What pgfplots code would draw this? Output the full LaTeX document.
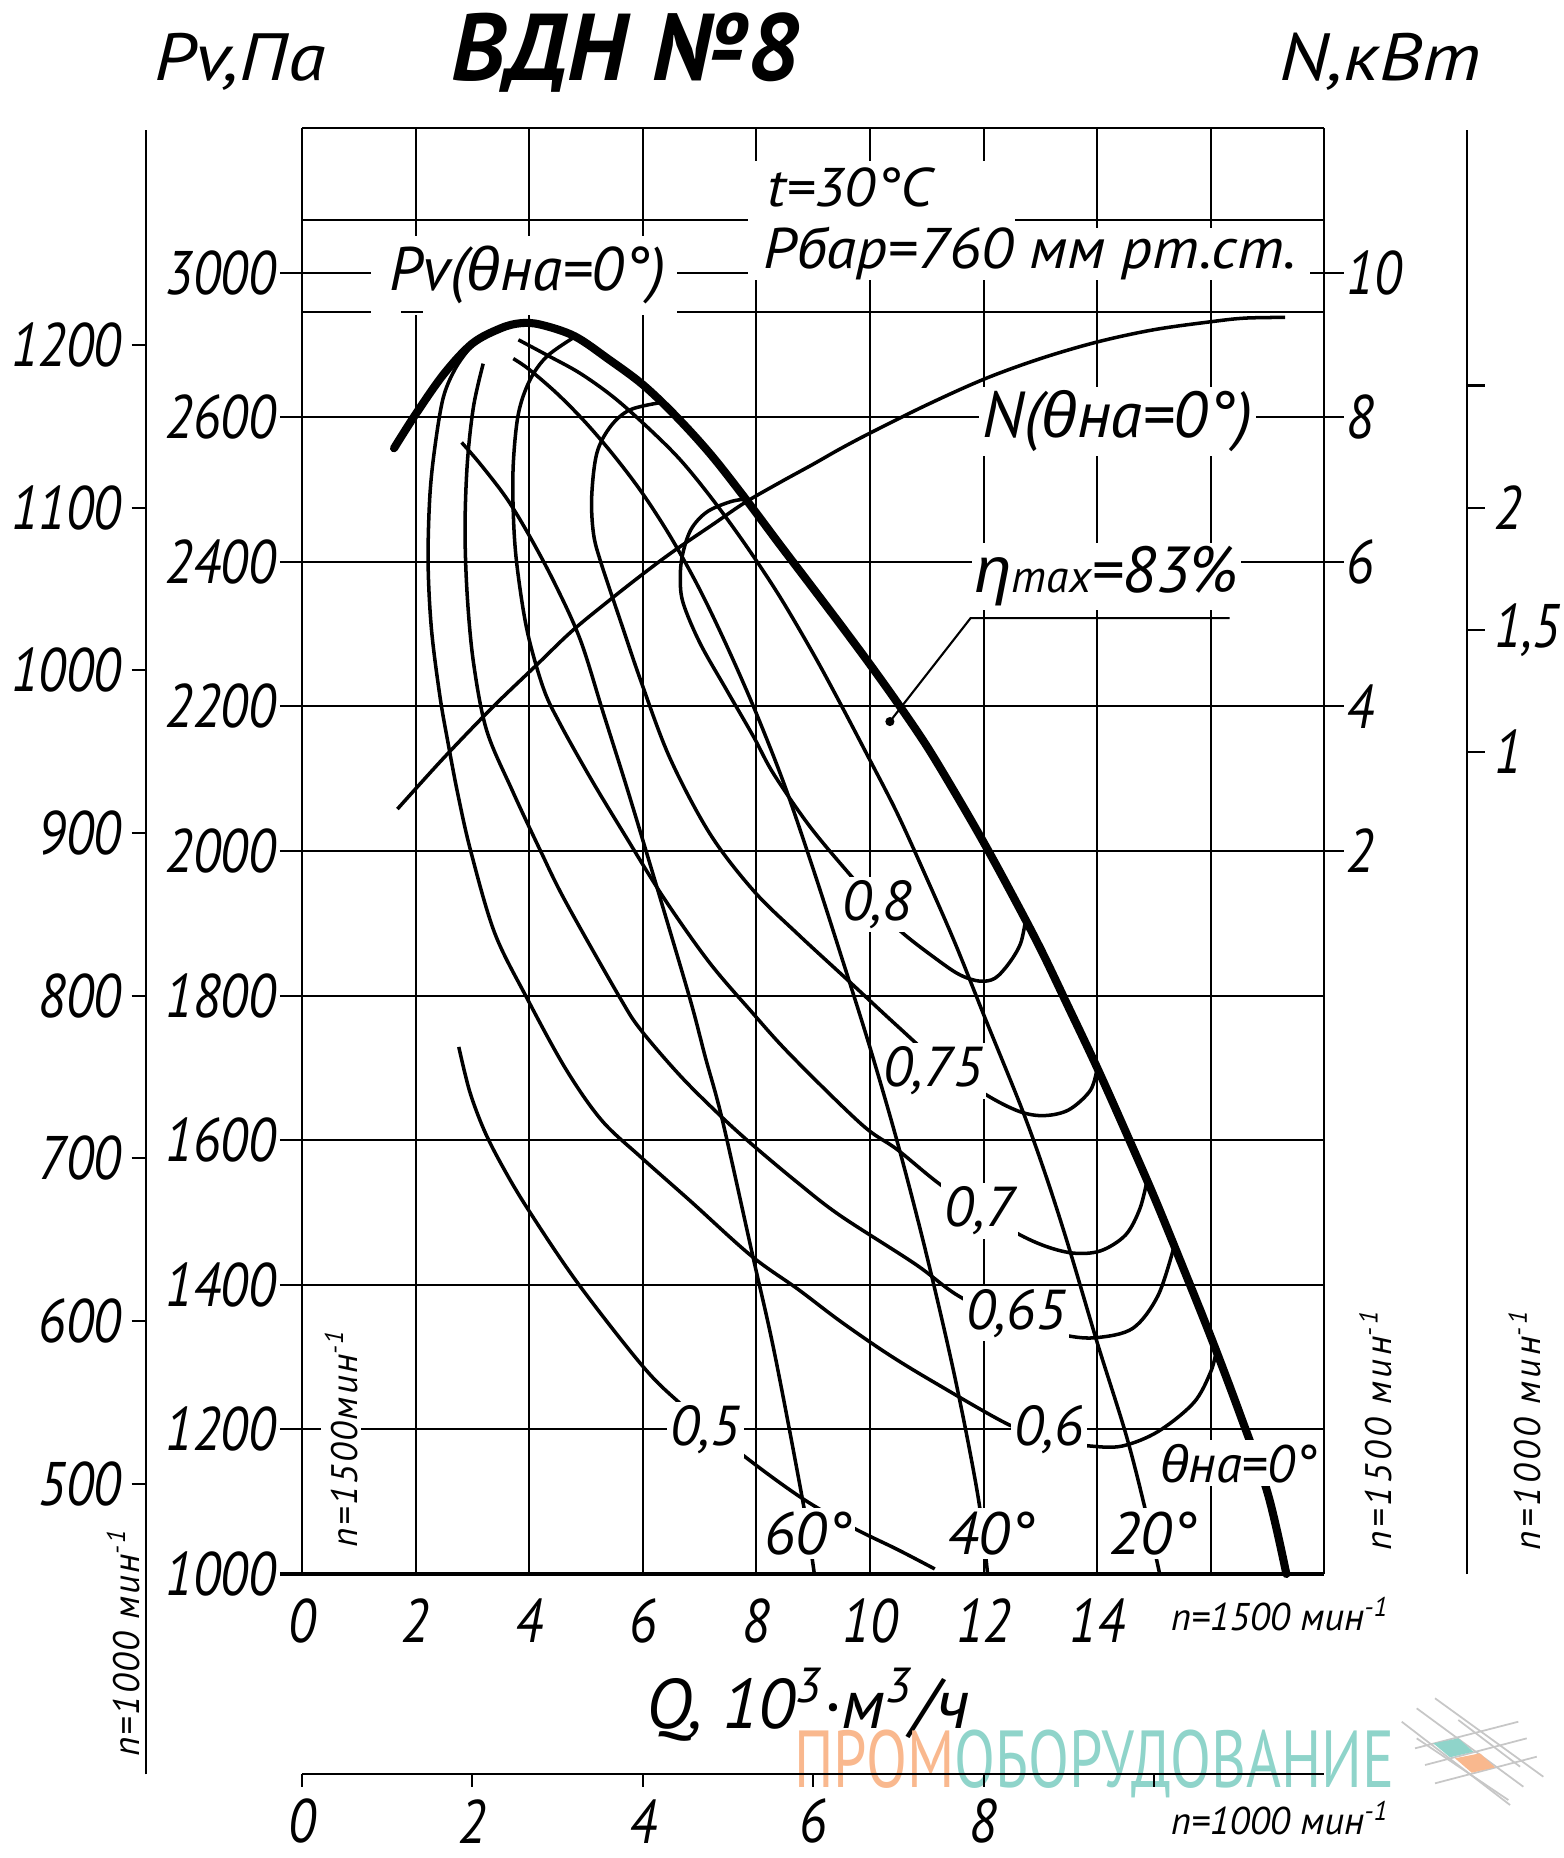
\documentclass[border=0pt]{standalone}
\usepackage{pgfplots}
\pgfplotsset{compat=1.18}
\usepackage{graphicx}
\usepackage{fontspec}
\setmainfont{PT Sans}
\newfontfamily\gr{Liberation Sans}
\newcommand\fs[1]{\fontsize{#1}{#1}\selectfont\itshape}
\newcommand\nd[1]{\scalebox{0.86}[1]{#1}}
\newcommand\ls[1]{\addfontfeature{LetterSpace=#1}}
\definecolor{wmo}{HTML}{F9B88E}
\definecolor{wmt}{HTML}{8FD4CA}
\tikzset{gl/.style={line width=0.6pt, black},
  cv/.style={line width=1pt, black, smooth, tension=0.55}}
\begin{document}
\begin{tikzpicture}
\begin{axis}[
  scale only axis, width=10.224cm, height=14.46cm,
  xmin=0, xmax=18, ymin=1000, ymax=3000,
  axis lines=none, clip=false,
]
% ---------------- grid -----------------
\pgfplotsinvokeforeach{0,2,4,6,8,10,12,14,16,18}{\draw[gl] (axis cs:#1,1000) -- (axis cs:#1,3000);}
\pgfplotsinvokeforeach{1200,1400,1600,1800}{\draw[gl] (axis cs:-0.39,#1) -- (axis cs:18,#1);}
\pgfplotsinvokeforeach{2000,2200,2400,2600,2800}{\draw[gl] (axis cs:-0.39,#1) -- (axis cs:18.35,#1);}
\draw[line width=0.9pt] (axis cs:-0.39,1000) -- (axis cs:18,1000);
\draw[gl] (axis cs:0,3000) -- (axis cs:18,3000);
\draw[gl] (axis cs:0,2873) -- (axis cs:18,2873);
\draw[gl] (axis cs:0,2745) -- (axis cs:18,2745);
% white masks behind the header texts
\fill[white] (axis cs:1.22,2741) rectangle (axis cs:6.6,2850);
\fill[white] (axis cs:7.85,2790) rectangle (axis cs:17.75,2862);
\fill[white] (axis cs:7.85,2862) rectangle (axis cs:12.55,2955);
\draw[gl] (axis cs:1.74,2745) -- (axis cs:2.13,2745);

% ---------------- efficiency loops -----------------
\addplot[cv] coordinates {(7.83,2487) (7.54,2483) (7.13,2469) (6.85,2445) (6.70,2410) (6.66,2378) (6.71,2343) (7.01,2287) (7.48,2222) (7.95,2158) (8.30,2107) (8.94,2034) (9.65,1967) (10.1,1928) (10.54,1889) (11.23,1847) (11.6,1828) (11.93,1820) (12.2,1824) (12.45,1845) (12.65,1872) (12.74,1905)};
\addplot[cv] coordinates {(6.3,2620) (5.77,2610) (5.43,2587) (5.19,2550) (5.10,2490) (5.13,2440) (5.25,2402) (5.62,2315) (5.98,2232) (6.48,2128) (7.18,2024) (7.95,1945) (8.73,1885) (9.6,1822) (10.48,1758) (11.17,1710) (12.02,1664) (12.62,1640) (13.06,1634) (13.50,1642) (13.88,1669) (14.0,1700)};
\addplot[cv] coordinates {(4.78,2710) (4.31,2684) (4.01,2651) (3.81,2605) (3.72,2536) (3.72,2467) (3.78,2398) (3.96,2306) (4.25,2225) (4.55,2175) (5.1,2098) (5.7,2020) (6.37,1935) (7.16,1847) (7.91,1778) (8.6,1718) (9.85,1622) (10.48,1587) (11.30,1535) (12.37,1481) (13.0,1456) (13.56,1444) (14.06,1447) (14.5,1469) (14.75,1505) (14.88,1545)};
\addplot[cv] coordinates {(3.19,2674) (3.02,2615) (2.91,2536) (2.87,2444) (2.91,2352) (3.02,2260) (3.25,2167) (3.7,2084) (4.2,2000) (4.64,1930) (5.59,1798) (5.96,1753) (6.66,1689) (7.35,1635) (7.91,1595) (8.73,1541) (9.47,1496) (10.79,1429) (11.55,1385) (12.5,1348) (13.44,1330) (14.0,1327) (14.63,1340) (15.07,1385) (15.35,1452)};
\addplot[cv] coordinates {(3.02,2702) (2.72,2670) (2.49,2628) (2.34,2559) (2.25,2490) (2.22,2398) (2.28,2306) (2.43,2213) (2.57,2150) (2.74,2080) (2.97,2000) (3.39,1887) (3.95,1798) (4.64,1699) (5.27,1628) (5.96,1577) (6.85,1515) (7.91,1440) (8.73,1394) (9.47,1350) (10.3,1305) (11.11,1266) (12.43,1207) (13.2,1185) (13.88,1177) (14.44,1177) (15.07,1197) (15.70,1237) (16.0,1280) (16.1,1310)};
\addplot[cv] coordinates {(2.76,1729) (2.95,1668) (3.2,1615) (3.5,1568) (3.95,1508) (4.83,1405) (5.96,1291) (6.6,1240) (7.72,1167) (8.8,1105) (9.7,1064) (10.48,1034) (11.14,1007)};

% efficiency labels
\node[fill=white, inner sep=1pt] at (axis cs:10.13,1926) {\fs{16}0,8};
\node[fill=white, inner sep=1pt] at (axis cs:11.11,1696) {\fs{16}0,75};
\node[fill=white, inner sep=1pt] at (axis cs:11.93,1502) {\fs{16}0,7};
\node[fill=white, inner sep=1pt] at (axis cs:12.57,1360) {\fs{16}0,65};
\node[fill=white, inner sep=1pt] at (axis cs:13.15,1199) {\fs{16}0,6};
\node[fill=white, inner sep=1pt] at (axis cs:7.10,1199) {\fs{16}0,5};

% ---------------- pressure curves (guide vane angles) -----------------
\addplot[cv] coordinates {(3.81,2707) (4.31,2686) (4.89,2661) (5.48,2628) (6.07,2587) (6.66,2541) (7.24,2485) (7.83,2421) (8.41,2352) (9.0,2273) (9.47,2205) (9.97,2130) (10.48,2052) (11.0,1962) (11.5,1872) (12.02,1770) (12.68,1642) (13.1,1550) (13.5,1452) (14.0,1320) (14.51,1192) (14.85,1088) (15.1,1000)};
\addplot[cv] coordinates {(3.72,2681) (4.0,2666) (4.5,2632) (5.0,2592) (5.5,2546) (6.0,2494) (6.5,2433) (7.0,2362) (7.5,2280) (8.0,2190) (8.5,2090) (9.0,1975) (9.5,1853) (10.0,1728) (10.5,1592) (11.0,1440) (11.5,1270) (11.9,1108) (12.07,1000)};
\addplot[cv] coordinates {(2.81,2565) (3.13,2536) (3.6,2488) (4.01,2435) (4.45,2370) (4.9,2292) (5.3,2192) (5.69,2095) (6.0,2015) (6.4,1910) (6.85,1790) (7.1,1715) (7.4,1628) (7.93,1442) (8.32,1305) (8.83,1095) (9.02,1000)};
% theta = 0 (thick)
\addplot[line width=2.3pt, black, smooth, tension=0.55, line cap=round] coordinates {(1.62,2557) (2.0,2604) (2.5,2660) (3.0,2702) (3.5,2723) (3.85,2730) (4.2,2728) (4.8,2712) (5.4,2680) (6.0,2645) (6.6,2600) (7.2,2548) (7.8,2488) (8.4,2425) (9.0,2363) (9.5,2311) (10.0,2258) (10.5,2203) (11.0,2145) (11.5,2080) (12.0,2012) (12.5,1940) (13.0,1865) (13.5,1783) (14.0,1700) (14.5,1612) (15.0,1522) (15.5,1426) (16.0,1328) (16.5,1224) (17.0,1112) (17.33,1000)};
% power N (kW), plotted on the N scale: Pv = 1800 + 100 N
\addplot[cv] table[x index=0, y expr=1800+100*\thisrowno{1}] {
1.68 2.58
2.0 2.86
2.57 3.35
3.37 4.0
4.14 4.58
4.75 5.04
5.4 5.46
6.0 5.83
6.53 6.14
7.24 6.52
7.8 6.82
8.42 7.1
9.0 7.35
9.47 7.56
10.0 7.78
11.0 8.17
12.02 8.53
13.0 8.81
14.0 9.04
15.0 9.21
16.0 9.32
16.6 9.37
17.31 9.38
};

% angle labels
\node[fill=white, inner sep=1pt] at (axis cs:8.91,1056) {\fs{17}60°};
\node[fill=white, inner sep=1pt] at (axis cs:12.13,1056) {\fs{17}40°};
\node[fill=white, inner sep=1pt] at (axis cs:14.98,1056) {\fs{17}20°};
\node[fill=white, inner sep=1pt] at (axis cs:16.49,1153) {\fs{15}{\gr θ}на=0°};

% eta max
\node[fill=white, inner sep=1pt] at (axis cs:14.17,2380) {\fs{18.5}{\gr η}{\fontsize{13}{13}\selectfont max}=83\%};
\draw[line width=0.6pt] (axis cs:10.35,2179) -- (axis cs:11.77,2322) -- (axis cs:16.33,2322);
\fill (axis cs:10.35,2179) circle[radius=1.3pt];
% curve names
\node[fill=white, inner sep=1pt] at (axis cs:14.36,2594) {\fs{18.5}N({\gr θ}на=0°)};
\node[inner sep=0pt] at (axis cs:3.98,2797) {\fs{17.5}Pv({\gr θ}на=0°)};
\node[inner sep=0pt] at (axis cs:9.65,2918) {\scalebox{1.08}[1]{\fs{15.5}t=30°C}};
\node[inner sep=0pt] at (axis cs:12.82,2826) {\scalebox{1.07}[1]{\fs{16.3}Pбар=760 мм рт.ст.}};

% ---------------- left Pv scale (n=1500) -----------------
\pgfplotsinvokeforeach{1000,1200,1400,1600,1800,2000,2200,2400,2600}{\node[anchor=east, inner sep=0pt] at (axis cs:-0.45,#1) {\fs{17.5}\nd{#1}};}
\node[anchor=east, inner sep=0pt] at (axis cs:-0.45,2800) {\fs{17.5}\nd{3000}};
% right N scale (n=1500)
\node[anchor=west, inner sep=0pt] at (axis cs:18.38,2000) {\fs{17.5}\nd{2}};
\node[anchor=west, inner sep=0pt] at (axis cs:18.38,2200) {\fs{17.5}\nd{4}};
\node[anchor=west, inner sep=0pt] at (axis cs:18.38,2400) {\fs{17.5}\nd{6}};
\node[anchor=west, inner sep=0pt] at (axis cs:18.38,2600) {\fs{17.5}\nd{8}};
\node[anchor=west, inner sep=0pt] at (axis cs:18.38,2800) {\fs{17.5}\nd{10}};

% far-left Pv scale (n=1000): Pv1500 = 2.25 Pv1000
\draw[gl] (axis cs:-2.75,723) -- (axis cs:-2.75,2997);
\pgfplotsinvokeforeach{500,600,700,800,900,1000,1100,1200}{
  \draw[gl] (axis cs:-3.0,{2.25*#1}) -- (axis cs:-2.75,{2.25*#1});
  \node[anchor=east, inner sep=0pt] at (axis cs:-3.17,{2.25*#1}) {\fs{17.5}\nd{#1}};}
% far-right N scale (n=1000): N1500 = 3.375 N1000
\draw[gl] (axis cs:20.51,1000) -- (axis cs:20.51,2997);
\pgfplotsinvokeforeach{1,1.5,2,2.5}{\draw[gl] (axis cs:20.51,{1800+337.5*#1}) -- (axis cs:20.83,{1800+337.5*#1});}
\node[anchor=west, inner sep=0pt] at (axis cs:20.99,2137.5) {\fs{17.5}\nd{1}};
\node[anchor=west, inner sep=0pt] at (axis cs:20.99,2306) {\fs{17.5}\nd{1,5}};
\node[anchor=west, inner sep=0pt] at (axis cs:20.99,2475) {\fs{17.5}\nd{2}};

% ---------------- bottom Q scale (n=1500) -----------------
\pgfplotsinvokeforeach{0,2,4,6,8,10,12,14}{\node[inner sep=0pt] at (axis cs:#1,935) {\fs{17.5}\nd{#1}};}
\node[inner sep=0pt] at (axis cs:17.22,945) {\fs{11}n=1500 мин\textsuperscript{-1}};
\node[inner sep=0pt] at (axis cs:8.9,819) {\fs{20}Q, 10\textsuperscript{3}·м\textsuperscript{3}/ч};

% watermark
\node[inner sep=0pt] at (axis cs:13.95,738) {\scalebox{0.74}[1]{\fontsize{23}{23}\selectfont\color{wmo}ПРОМ\color{wmt}ОБОРУДОВАНИЕ}};
\begin{scope}[line width=0.5pt, color=black!22]
\draw (axis cs:19.361,795.7) -- (axis cs:21.268,680.5);
\draw (axis cs:19.625,814.2) -- (axis cs:21.502,705.8);
\draw (axis cs:19.947,828.1) -- (axis cs:21.854,719.6);
\draw (axis cs:20.357,798.1) -- (axis cs:21.444,733.5);
\draw (axis cs:19.625,772.7) -- (axis cs:21.238,687.4);
\draw (axis cs:19.595,758.9) -- (axis cs:21.414,795.7);
\draw (axis cs:19.771,735.8) -- (axis cs:21.562,772.7);
\draw (axis cs:19.947,710.5) -- (axis cs:21.738,747.3);
\end{scope}
\fill[wmt] (axis cs:19.917,765.8) -- (axis cs:20.357,772.7) -- (axis cs:20.621,754.2) -- (axis cs:20.211,746.5) -- cycle;
\fill[wmo] (axis cs:20.299,745.1) -- (axis cs:20.739,752.0) -- (axis cs:21.004,732.6) -- (axis cs:20.593,725.2) -- cycle;

% second Q scale (n=1000): Q1500 = 1.5 Q1000
\draw[gl] (axis cs:0,723) -- (axis cs:18,723);
\pgfplotsinvokeforeach{0,3,6,9,12,15}{\draw[gl] (axis cs:#1,723) -- (axis cs:#1,705);}
\node[inner sep=0pt] at (axis cs:0,658) {\fs{17.5}\nd{0}};
\node[inner sep=0pt] at (axis cs:3,658) {\fs{17.5}\nd{2}};
\node[inner sep=0pt] at (axis cs:6,658) {\fs{17.5}\nd{4}};
\node[inner sep=0pt] at (axis cs:9,658) {\fs{17.5}\nd{6}};
\node[inner sep=0pt] at (axis cs:12,658) {\fs{17.5}\nd{8}};
\node[inner sep=0pt] at (axis cs:17.22,662) {\fs{11}n=1000 мин\textsuperscript{-1}};

% rotated speed labels
\node[rotate=90, inner sep=0pt] at (axis cs:-3.15,905) {\fs{10.5}\ls{6}n=1000 мин\textsuperscript{-1}};
\node[rotate=90, fill=white, inner sep=1pt] at (axis cs:0.69,1188) {\fs{10.5}\ls{6}n=1500мин\textsuperscript{-1}};
\node[rotate=90, inner sep=0pt] at (axis cs:18.9,1199) {\fs{10.5}\ls{10}n=1500 мин\textsuperscript{-1}};
\node[rotate=90, inner sep=0pt] at (axis cs:21.53,1199) {\fs{10.5}\ls{10}n=1000 мин\textsuperscript{-1}};

% titles
\node[anchor=base] at (axis cs:-1.09,3066) {\scalebox{1.15}[1]{\fs{19}Pv,Па}};
\node[anchor=base] at (axis cs:5.69,3066) {\fontsize{27}{27}\selectfont\bfseries\itshape ВДН №8};
\node[anchor=base] at (axis cs:18.98,3066) {\scalebox{1.15}[1]{\fs{19}N,кВт}};

\coordinate (BL) at (axis cs:-5.317,607.2);
\coordinate (TR) at (axis cs:22.218,3177);
\end{axis}
\pgfresetboundingbox
\path[use as bounding box] (BL) rectangle (TR);
\end{tikzpicture}
\end{document}
